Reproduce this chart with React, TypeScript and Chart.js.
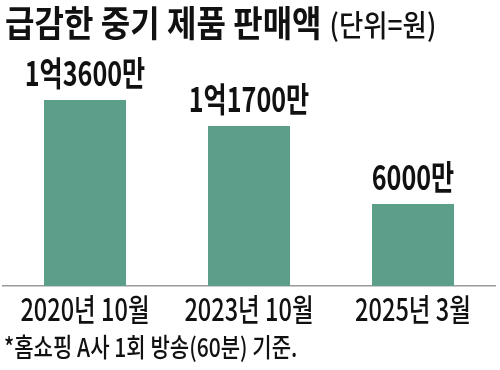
import React, { useEffect, useRef } from "react";
import { Chart, registerables } from "chart.js";

Chart.register(...registerables);

const categories = ["2020년 10월", "2023년 10월", "2025년 3월"];
const values = [13600, 11700, 6000]; // 단위: 만원
const valueLabels = ["1억3600만", "1억1700만", "6000만"];
const titleMain = "급감한 중기 제품 판매액";
const titleUnit = "(단위=원)";
const footnote = "*홈쇼핑 A사 1회 방송(60분) 기준.";

const FONT = "'Noto Sans CJK KR', 'Noto Sans', sans-serif";
const BAR_COLOR = "#5b9e8a";

function drawText(
  ctx: CanvasRenderingContext2D,
  text: string,
  x: number,
  y: number,
  font: string,
  sx: number,
  align: CanvasTextAlign
): number {
  ctx.save();
  ctx.font = font;
  ctx.fillStyle = "#111111";
  ctx.translate(x, y);
  ctx.scale(sx, 1);
  ctx.textAlign = align;
  ctx.textBaseline = "alphabetic";
  ctx.fillText(text, 0, 0);
  const w = ctx.measureText(text).width * sx;
  ctx.restore();
  return w;
}

const textPlugin = {
  id: "textPlugin",
  afterDraw(chart: any) {
    const ctx = chart.ctx as CanvasRenderingContext2D;
    // title
    const w = drawText(ctx, titleMain, 5, 37, `bold 36px ${FONT}`, 0.89, "left");
    drawText(ctx, titleUnit, 5 + w + 8, 36, `500 30px ${FONT}`, 0.88, "left");
    // value labels
    const meta = chart.getDatasetMeta(0);
    meta.data.forEach((el: any, i: number) => {
      drawText(ctx, valueLabels[i], el.x, el.y - 14, `bold 34px ${FONT}`, 0.74, "center");
    });
    // category labels
    const xs = chart.scales.x;
    categories.forEach((c, i) => {
      drawText(ctx, c, xs.getPixelForValue(i), 321, `500 31px ${FONT}`, 0.76, "center");
    });
    // footnote
    drawText(ctx, footnote, 4, 357, `500 26px ${FONT}`, 0.81, "left");
  },
};

export default function App() {
  const ref = useRef<HTMLCanvasElement | null>(null);
  useEffect(() => {
    if (!ref.current) return;
    const chart = new Chart(ref.current, {
      type: "bar",
      data: {
        labels: categories,
        datasets: [
          {
            data: values,
            backgroundColor: BAR_COLOR,
            borderWidth: 0,
            barPercentage: 0.5,
            categoryPercentage: 1.0,
          },
        ],
      },
      options: {
        animation: false,
        responsive: false,
        devicePixelRatio: 1,
        layout: { padding: { top: 100, left: 3, right: 5, bottom: 0 } },
        plugins: {
          legend: { display: false },
          title: { display: false },
          tooltip: { enabled: false },
        },
        scales: {
          x: {
            grid: { display: false },
            border: { display: true, color: "#9a9a9a", width: 1.5 },
            ticks: { display: false },
            afterFit: (s: any) => {
              s.height = 84;
            },
          },
          y: { display: false, min: 0, max: 13600 },
        },
      },
      plugins: [textPlugin],
    });
    return () => chart.destroy();
  }, []);
  return (
    <div style={{ position: "absolute", left: 0, top: 0, width: 500, height: 370, background: "#fff" }}>
      <canvas ref={ref} width={500} height={370} />
    </div>
  );
}
